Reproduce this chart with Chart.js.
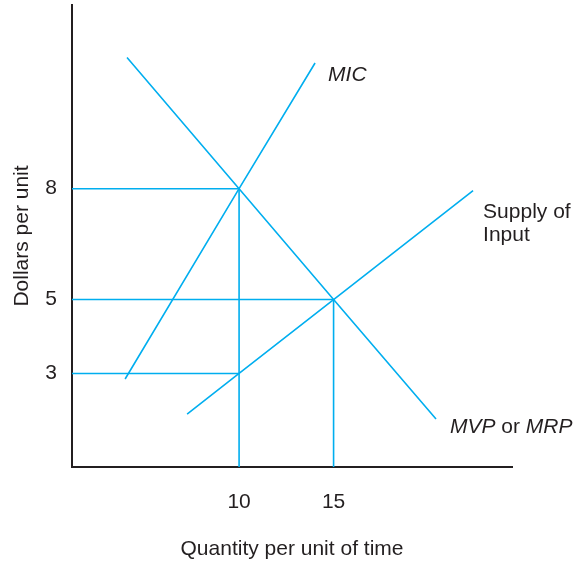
<!DOCTYPE html>
<html>
<head>
<meta charset="utf-8">
<script src="https://cdn.jsdelivr.net/npm/chart.js@4/dist/chart.umd.min.js"></script>
<style>
  html, body { margin: 0; padding: 0; background: #fff; }
  #wrap { width: 584px; height: 562px; }
</style>
</head>
<body>
<div id="wrap"><canvas id="chart"></canvas></div>
<script>
// input market: MIC, MVP/MRP and supply of input
var micQty = [3.97, 10, 14.02];
var micPrice = [2.85, 8, 11.4];
var mrpQty = [4.07, 10, 15, 20.42];
var mrpPrice = [11.55, 8, 5, 1.77];
var supplyQty = [7.25, 10, 15, 22.38];
var supplyPrice = [1.9, 3, 5, 7.95];

// points that get dropped lines to the axes
var hGuideQty = [10, 15, 10];
var hGuidePrice = [8, 5, 3];
var vGuideQty = [10, 15];
var vGuidePrice = [8, 5];

var xTicks = [10, 15];
var yTicks = [3, 5, 8];

var X_MIN = 1.16, X_MAX = 24.44;
var Y_MIN = 0.47, Y_MAX = 12.97;

var BLUE = 'rgb(0,174,239)';
var INK = '#231f20';
var FONT = '"Liberation Sans", Arial, Helvetica, sans-serif';

function pts(xs, ys) {
    return xs.map(function (x, i) { return { x: x, y: ys[i] }; });
}

function lineSet(data) {
    return {
        data: data,
        borderColor: BLUE,
        borderWidth: 1.6,
        pointRadius: 0,
        tension: 0,
        fill: false
    };
}

var datasets = [
    lineSet(pts(micQty, micPrice)),
    lineSet(pts(mrpQty, mrpPrice)),
    lineSet(pts(supplyQty, supplyPrice))
];
hGuideQty.forEach(function (q, i) {
    datasets.push(lineSet([{ x: X_MIN, y: hGuidePrice[i] }, { x: q, y: hGuidePrice[i] }]));
});
vGuideQty.forEach(function (q, i) {
    datasets.push(lineSet([{ x: q, y: vGuidePrice[i] }, { x: q, y: Y_MIN }]));
});

// curve names, anchored in data units, drawn as mixed italic / upright text
var curveLabels = [
    { x: 14.71, y: 11.08, lines: [[['MIC', true]]] },
    { x: 22.91, y: 7.37, lines: [[['Supply of', false]], [['Input', false]]] },
    { x: 21.16, y: 1.56, lines: [[['MVP', true], [' or ', false], ['MRP', true]]] }
];

var labelPlugin = {
    id: 'curveLabels',
    afterDatasetsDraw: function (chart) {
        var ctx = chart.ctx;
        var xs = chart.scales.x, ys = chart.scales.y;
        ctx.save();
        ctx.fillStyle = INK;
        ctx.textBaseline = 'middle';
        ctx.textAlign = 'left';
        curveLabels.forEach(function (lab) {
            var px = xs.getPixelForValue(lab.x);
            var py = ys.getPixelForValue(lab.y);
            lab.lines.forEach(function (line, li) {
                var cx = px;
                line.forEach(function (seg) {
                    ctx.font = (seg[1] ? 'italic ' : '') + '21px ' + FONT;
                    ctx.fillText(seg[0], cx, py + li * 23);
                    cx += ctx.measureText(seg[0]).width;
                });
            });
        });
        ctx.restore();
    }
};

new Chart('chart', {
    type: 'line',
    data: { datasets: datasets },
    options: {
        responsive: true,
        maintainAspectRatio: false,
        animation: false,
        events: [],
        layout: { padding: { left: 0, top: 5, right: 72, bottom: 0 } },
        plugins: { legend: { display: false }, tooltip: { enabled: false } },
        scales: {
            x: {
                type: 'linear',
                min: X_MIN,
                max: X_MAX,
                afterBuildTicks: function (s) { s.ticks = xTicks.map(function (v) { return { value: v }; }); },
                afterFit: function (s) { s.height = 95; s.paddingLeft = 0; s.paddingRight = 0; },
                grid: { display: false, drawTicks: false },
                border: { color: INK, width: 2 },
                ticks: { color: INK, padding: 22.5, maxRotation: 0, font: { family: FONT, size: 21 } },
                title: { display: true, text: 'Quantity per unit of time', color: INK, padding: { top: 0, bottom: 0 }, font: { family: FONT, size: 21 } }
            },
            y: {
                type: 'linear',
                min: Y_MIN,
                max: Y_MAX,
                afterBuildTicks: function (s) { s.ticks = yTicks.map(function (v) { return { value: v }; }); },
                afterFit: function (s) { s.width = 72; s.paddingTop = 0; s.paddingBottom = 0; },
                grid: { display: false, drawTicks: false },
                border: { color: INK, width: 2 },
                ticks: { color: INK, padding: 15, font: { family: FONT, size: 21 } },
                title: { display: true, text: 'Dollars per unit', color: INK, padding: { top: 10, bottom: 0 }, font: { family: FONT, size: 21 } }
            }
        }
    },
    plugins: [labelPlugin]
});
</script>
</body>
</html>
